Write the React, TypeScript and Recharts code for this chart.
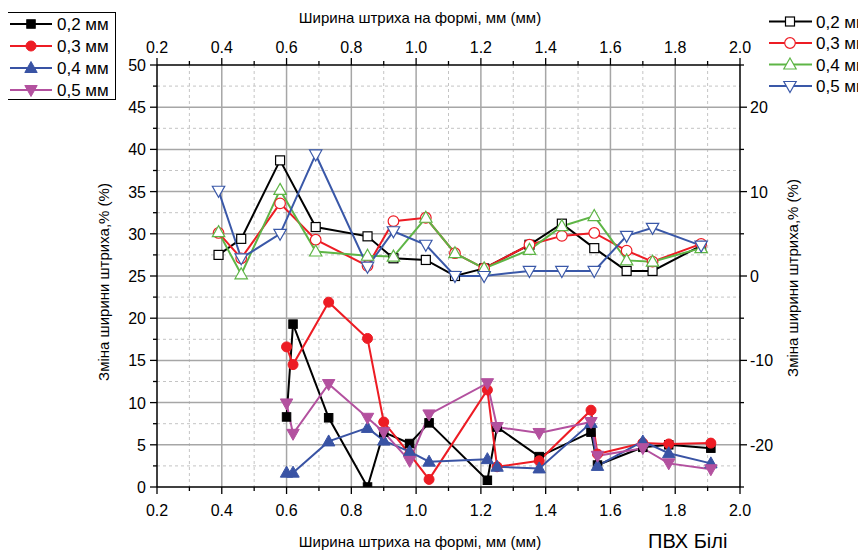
import React from 'react';
import { ComposedChart, Line, XAxis, YAxis, CartesianGrid } from 'recharts';

// ---- bottom axis series (filled markers, left axis) ----
const bottomX = [0.6, 0.62, 0.73, 0.85, 0.9, 0.98, 1.04, 1.22, 1.25, 1.38, 1.54, 1.56, 1.7, 1.78, 1.91];
const fill02 = [8.3, 19.3, 8.2, 0, 6.5, 5.15, 7.6, 0.8, 7.1, 3.6, 6.5, 2.6, 4.7, 5.0, 4.6];
const fill03 = [16.6, 14.5, 21.9, 17.6, 7.7, 3.9, 0.9, 11.5, 2.4, 3.1, 9.1, 3.9, 5.2, 5.1, 5.2];
const fill04 = [1.7, 1.7, 5.4, 7.0, 5.5, 4.2, 3.0, 3.3, 2.4, 2.2, 7.6, 2.5, 5.4, 4.0, 2.8];
const fill05 = [9.9, 6.3, 12.2, 8.2, 6.5, 3.1, 8.6, 12.3, 7.1, 6.4, 7.7, 3.7, 4.6, 2.8, 2.1];

// ---- top axis series (open markers, right axis) ----
const topX = [0.39, 0.46, 0.58, 0.69, 0.85, 0.93, 1.03, 1.12, 1.21, 1.35, 1.45, 1.55, 1.65, 1.73, 1.88];
const open02 = [2.5, 4.4, 13.7, 5.8, 4.7, 2.1, 1.9, 0, 0.9, 3.7, 6.2, 3.3, 0.6, 0.6, 3.6];
const open03 = [5.1, 2.1, 8.6, 4.3, 1.2, 6.5, 6.9, 2.7, 0.9, 3.7, 4.75, 5.1, 3.0, 1.7, 3.8];
const open04 = [5.2, 0.2, 10.2, 2.9, 2.4, 2.3, 6.9, 2.7, 0.9, 3.1, 5.9, 7.1, 1.85, 1.7, 3.3];
const open05 = [10.1, 2.1, 5.0, 14.4, 1.1, 5.3, 3.7, 0, 0, 0.6, 0.6, 0.6, 4.75, 5.7, 3.6];

// ---- ticks ----
const xTicks = [0.2, 0.3, 0.4, 0.5, 0.6, 0.7, 0.8, 0.9, 1.0, 1.1, 1.2, 1.3, 1.4, 1.5, 1.6, 1.7, 1.8, 1.9, 2.0];
const xMajor = [0.2, 0.4, 0.6, 0.8, 1.0, 1.2, 1.4, 1.6, 1.8, 2.0];
const xMinorGrid = [0.3, 0.5, 0.7, 0.9, 1.1, 1.3, 1.5, 1.7, 1.9];
const xMajorGrid = [0.4, 0.6, 0.8, 1.0, 1.2, 1.4, 1.6, 1.8];
const leftTicks = [0, 2.5, 5, 7.5, 10, 12.5, 15, 17.5, 20, 22.5, 25, 27.5, 30, 32.5, 35, 37.5, 40, 42.5, 45, 47.5, 50];
const leftMajor = [0, 5, 10, 15, 20, 25, 30, 35, 40, 45, 50];
const yMinorGrid = [2.5, 7.5, 12.5, 17.5, 22.5, 27.5, 32.5, 37.5, 42.5, 47.5];
const yMajorGrid = [5, 10, 15, 20, 25, 30, 35, 40, 45];
const rightTicks = [-25, -20, -15, -10, -5, 0, 5, 10, 15, 20, 25];
const rightLabels = [-20, -10, 0, 10, 20];

const legendLabels = ['0,2 мм', '0,3 мм', '0,4 мм', '0,5 мм'];
const axisTitle = 'Ширина штриха на формі, мм (мм)';
const yTitle = 'Зміна ширини штриха,% (%)';
const note = 'ПВХ Білі';

const FONT = '"Liberation Sans", Arial, sans-serif';

const zip = (xs: number[], ys: number[]) => xs.map((x, i) => ({ x, y: ys[i] }));

const RED = '#ed1c24';
const BLUE_F = '#3953a4';
const PURPLE = '#b3519f';
const GREEN = '#5eb546';
const BLUE_O = '#3a58a8';

type Shape = 'square' | 'circle' | 'up' | 'down';

function Marker({ cx, cy, shape, color, filled }: { cx: number; cy: number; shape: Shape; color: string; filled: boolean }) {
  if (cx == null || cy == null || isNaN(cx) || isNaN(cy)) return null;
  const fill = filled ? color : '#fff';
  const sw = filled ? 1 : 1.2;
  if (shape === 'square') {
    const s = filled ? 8.5 : 9;
    return <rect x={cx - s / 2} y={cy - s / 2} width={s} height={s} fill={fill} stroke={color} strokeWidth={sw} />;
  }
  if (shape === 'circle') return <circle cx={cx} cy={cy} r={filled ? 5 : 5.3} fill={fill} stroke={color} strokeWidth={sw} />;
  if (shape === 'up')
    return <polygon points={`${cx},${cy - 6.5} ${cx + 6.2},${cy + 4.5} ${cx - 6.2},${cy + 4.5}`} fill={fill} stroke={color} strokeWidth={sw} />;
  return <polygon points={`${cx},${cy + 6.5} ${cx + 6.2},${cy - 4.5} ${cx - 6.2},${cy - 4.5}`} fill={fill} stroke={color} strokeWidth={sw} />;
}

const dotFn = (shape: Shape, color: string, filled: boolean) => (p: any) => (
  <Marker key={`${shape}-${color}-${p.index}`} cx={p.cx} cy={p.cy} shape={shape} color={color} filled={filled} />
);

const isMajorX = (v: number) => xMajor.some((m) => Math.abs(m - v) < 1e-6);

const BottomTick = (p: any) => {
  const v = p.payload.value;
  const maj = isMajorX(v);
  return (
    <g>
      <line x1={p.x} y1={p.y} x2={p.x} y2={p.y + (maj ? 7 : 4)} stroke="#000" strokeWidth={1.3} />
      {maj && (
        <text x={p.x} y={p.y + 29} textAnchor="middle" fontSize={16} fontFamily={FONT} fill="#000">
          {v.toFixed(1)}
        </text>
      )}
    </g>
  );
};

const TopTick = (p: any) => {
  const v = p.payload.value;
  const maj = isMajorX(v);
  return (
    <g>
      <line x1={p.x} y1={p.y} x2={p.x} y2={p.y - (maj ? 7 : 4)} stroke="#000" strokeWidth={1.3} />
      {maj && (
        <text x={p.x} y={p.y - 12} textAnchor="middle" fontSize={16} fontFamily={FONT} fill="#000">
          {v.toFixed(1)}
        </text>
      )}
    </g>
  );
};

const LeftTick = (p: any) => {
  const v = p.payload.value;
  const maj = leftMajor.includes(v);
  return (
    <g>
      <line x1={p.x} y1={p.y} x2={p.x - (maj ? 7 : 4)} y2={p.y} stroke="#000" strokeWidth={1.3} />
      {maj && (
        <text x={p.x - 11} y={p.y + 6} textAnchor="end" fontSize={16} fontFamily={FONT} fill="#000">
          {v}
        </text>
      )}
    </g>
  );
};

const RightTick = (p: any) => {
  const v = p.payload.value;
  const maj = rightLabels.includes(v);
  return (
    <g>
      <line x1={p.x} y1={p.y} x2={p.x + (maj ? 7 : 4)} y2={p.y} stroke="#000" strokeWidth={1.3} />
      {maj && (
        <text x={p.x + 10} y={p.y + 6} textAnchor="start" fontSize={16} fontFamily={FONT} fill="#000">
          {v}
        </text>
      )}
    </g>
  );
};

const hGen = (vals: number[]) => (args: any) => {
  const { yAxis, offset } = args;
  if (yAxis && typeof yAxis.scale === 'function') return vals.map((v) => yAxis.scale(v));
  return vals.map((v) => offset.top + offset.height * (1 - v / 50));
};
const vGen = (vals: number[]) => (args: any) => {
  const { xAxis, offset } = args;
  if (xAxis && typeof xAxis.scale === 'function') return vals.map((v) => xAxis.scale(v));
  return vals.map((v) => offset.left + (offset.width * (v - 0.2)) / 1.8);
};

const leftLegend = [
  { shape: 'square' as Shape, color: '#000' },
  { shape: 'circle' as Shape, color: RED },
  { shape: 'up' as Shape, color: BLUE_F },
  { shape: 'down' as Shape, color: PURPLE },
];
const rightLegend = [
  { shape: 'square' as Shape, color: '#000' },
  { shape: 'circle' as Shape, color: RED },
  { shape: 'up' as Shape, color: GREEN },
  { shape: 'down' as Shape, color: BLUE_O },
];

export default function App() {
  const bottomSeries = [
    { data: zip(bottomX, fill02), color: '#000', shape: 'square' as Shape },
    { data: zip(bottomX, fill03), color: RED, shape: 'circle' as Shape },
    { data: zip(bottomX, fill04), color: BLUE_F, shape: 'up' as Shape },
    { data: zip(bottomX, fill05), color: PURPLE, shape: 'down' as Shape },
  ];
  const topSeries = [
    { data: zip(topX, open02), color: '#000', shape: 'square' as Shape },
    { data: zip(topX, open03), color: RED, shape: 'circle' as Shape },
    { data: zip(topX, open04), color: GREEN, shape: 'up' as Shape },
    { data: zip(topX, open05), color: BLUE_O, shape: 'down' as Shape },
  ];

  return (
    <div style={{ position: 'relative', width: 866, height: 553, marginLeft: -8, marginTop: -8, background: '#fff' }}>
      <ComposedChart width={866} height={553} margin={{ top: 64, right: 125, bottom: 65, left: 156 }}>
        <CartesianGrid
          xAxisId="bottom"
          yAxisId="left"
          stroke="#c4c4c4"
          strokeWidth={1}
          strokeDasharray="3 3"
          horizontalCoordinatesGenerator={hGen(yMinorGrid)}
          verticalCoordinatesGenerator={vGen(xMinorGrid)}
        />
        <CartesianGrid
          xAxisId="bottom"
          yAxisId="left"
          stroke="#a6a6a6"
          strokeWidth={1.5}
          horizontalCoordinatesGenerator={hGen(yMajorGrid)}
          verticalCoordinatesGenerator={vGen(xMajorGrid)}
        />
        <XAxis
          xAxisId="bottom"
          type="number"
          dataKey="x"
          domain={[0.2, 2.0]}
          ticks={xTicks}
          interval={0}
          allowDataOverflow
          height={1}
          tickSize={0}
          tickMargin={0}
          tick={BottomTick}
          axisLine={{ stroke: '#000', strokeWidth: 1.5 }}
        />
        <XAxis
          xAxisId="top"
          orientation="top"
          type="number"
          dataKey="x"
          domain={[0.2, 2.0]}
          ticks={xTicks}
          interval={0}
          allowDataOverflow
          height={1}
          tickSize={0}
          tickMargin={0}
          tick={TopTick}
          axisLine={{ stroke: '#000', strokeWidth: 1.5 }}
        />
        <YAxis
          yAxisId="left"
          type="number"
          domain={[0, 50]}
          ticks={leftTicks}
          interval={0}
          allowDataOverflow
          width={1}
          tickSize={0}
          tickMargin={0}
          tick={LeftTick}
          axisLine={{ stroke: '#000', strokeWidth: 1.5 }}
        />
        <YAxis
          yAxisId="right"
          orientation="right"
          type="number"
          domain={[-25, 25]}
          ticks={rightTicks}
          interval={0}
          allowDataOverflow
          width={1}
          tickSize={0}
          tickMargin={0}
          tick={RightTick}
          axisLine={{ stroke: '#000', strokeWidth: 1.5 }}
        />
        {bottomSeries.map((s, i) => (
          <Line
            key={`b${i}`}
            xAxisId="bottom"
            yAxisId="left"
            data={s.data}
            dataKey="y"
            type="linear"
            stroke={s.color}
            strokeWidth={2}
            dot={dotFn(s.shape, s.color, true)}
            activeDot={false}
            isAnimationActive={false}
          />
        ))}
        {topSeries.map((s, i) => (
          <Line
            key={`t${i}`}
            xAxisId="top"
            yAxisId="right"
            data={s.data}
            dataKey="y"
            type="linear"
            stroke={s.color}
            strokeWidth={2}
            dot={dotFn(s.shape, s.color, false)}
            activeDot={false}
            isAnimationActive={false}
          />
        ))}
      </ComposedChart>
      <svg
        width={866}
        height={553}
        style={{ position: 'absolute', left: 0, top: 0, pointerEvents: 'none' }}
        fontFamily={FONT}
      >
        <rect x={5.5} y={12.5} width={110} height={87} fill="#fff" stroke="#000" strokeWidth={1} />
        {leftLegend.map((l, i) => {
          const y = 24 + i * 22;
          return (
            <g key={`ll${i}`}>
              <line x1={10} y1={y} x2={52} y2={y} stroke={l.color} strokeWidth={2} />
              <Marker cx={31} cy={y} shape={l.shape} color={l.color} filled />
              <text x={57} y={y + 6} fontSize={17} fill="#000">{legendLabels[i]}</text>
            </g>
          );
        })}
        {rightLegend.map((l, i) => {
          const y = 21.5 + i * 21.5;
          return (
            <g key={`rl${i}`}>
              <line x1={769} y1={y} x2={812} y2={y} stroke={l.color} strokeWidth={2} />
              <Marker cx={790} cy={y} shape={l.shape} color={l.color} filled={false} />
              <text x={816} y={y + 6} fontSize={17} fill="#000">{legendLabels[i]}</text>
            </g>
          );
        })}
        <text x={420} y={23} textAnchor="middle" fontSize={15} fill="#000">{axisTitle}</text>
        <text x={420} y={547} textAnchor="middle" fontSize={15} fill="#000">{axisTitle}</text>
        <text x={648} y={548} fontSize={20} fill="#000">{note}</text>
        <text x={0} y={0} transform="translate(109,282) rotate(-90)" textAnchor="middle" fontSize={15} fill="#000">{yTitle}</text>
        <text x={0} y={0} transform="translate(798,278) rotate(-90)" textAnchor="middle" fontSize={15} fill="#000">{yTitle}</text>
      </svg>
    </div>
  );
}
